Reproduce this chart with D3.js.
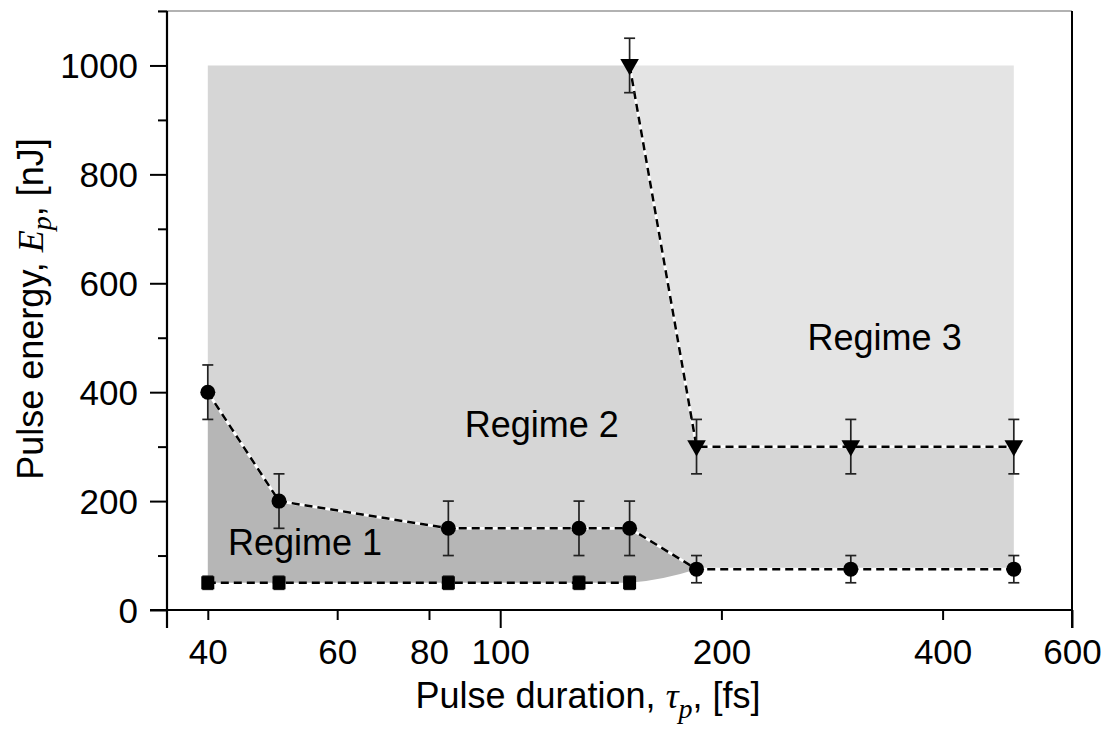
<!DOCTYPE html>
<html><head><meta charset="utf-8">
<script src="https://cdn.jsdelivr.net/npm/d3@7"></script>
<style>body{margin:0;background:#fff}svg{display:block}</style>
</head><body>
<svg id="c" width="1114" height="735"></svg>
<script>
// ---- data ----
const triX = [150, 185, 300, 500];
const triY = [1000, 300, 300, 300];
const triErr = [50, 50, 50, 50];
const circX = [40, 50, 85, 128, 150, 185, 300, 500];
const circY = [400, 200, 150, 150, 150, 75, 75, 75];
const circErr = [50, 50, 50, 50, 50, 25, 25, 25];
const sqX = [40, 50, 85, 128, 150];
const sqY = [50, 50, 50, 50, 50];
const sqErr = [12, 12, 12, 12, 12];
const regionTop = 1000, regionLeft = 40, regionRight = 500;
const xTickLabels = [40, 60, 80, 100, 200, 400, 600];
const xMajorTicks = [100, 600];
const xMinorTicks = [40, 60, 80, 200, 400];
const yMajorTicks = [0, 200, 400, 600, 800, 1000];
const yMinorTicks = [100, 300, 500, 700, 900, 1100];
const regimeLabels = [
  {text: "Regime 1", x: 42.6, y: 101},
  {text: "Regime 2", x: 89.5, y: 318},
  {text: "Regime 3", x: 262, y: 477}
];

const svg = d3.select("#c");
const x = d3.scaleLog().domain([35.2, 600]).range([167, 1072]);
const y = d3.scaleLinear().domain([0, 1100]).range([610, 11]);
const FONT = "'Liberation Sans', Arial, sans-serif";
const SERIF = "'Liberation Serif', 'Times New Roman', serif";

const line = d3.line().x(d => x(d[0])).y(d => y(d[1]));
const zip = (a, b) => a.map((v, i) => [v, b[i]]);
const tri = zip(triX, triY), circ = zip(circX, circY), sq = zip(sqX, sqY);

// ---- regions ----
const r3 = [[triX[0], regionTop], [regionRight, regionTop], [regionRight, triY[triY.length-1]], ...tri.slice().reverse()];
const r2 = [[regionLeft, regionTop], ...tri, [regionRight, circY[circY.length-1]], ...circ.slice().reverse()];
svg.append("path").attr("d", line(r3) + "Z").attr("fill", "#e4e4e4");
svg.append("path").attr("d", line(r2) + "Z").attr("fill", "#d6d6d6");
const lastSq = sq[sq.length-1], join = circ[5];
const p1 = line(circ.slice(0, 6));
const sx = x(lastSq[0]), sy = y(lastSq[1]), jx = x(join[0]), jy = y(join[1]);
const lower = line(sq.slice().reverse()).slice(1);
const r1d = p1 + `Q${(sx + jx) / 2},${(sy + jy) / 2 + 4} ${sx},${sy}` + "L" + lower + "Z";
svg.append("path").attr("d", r1d).attr("fill", "#b6b6b6");

// ---- frame & axes ----
const g = svg.append("g");
g.append("line").attr("x1", 158).attr("x2", 1072).attr("y1", y(1100)).attr("y2", y(1100)).attr("stroke", "#666").attr("stroke-width", 1.2);
g.append("line").attr("x1", x(600)).attr("x2", x(600)).attr("y1", y(1100)).attr("y2", 628).attr("stroke", "#000").attr("stroke-width", 2);

const yAxisMajor = d3.axisLeft(y).tickValues(yMajorTicks).tickSize(17).tickPadding(12).tickFormat(d3.format("d"));
const yAxisMinor = d3.axisLeft(y).tickValues(yMinorTicks).tickSize(9).tickFormat("");
const ya = g.append("g").attr("transform", "translate(167,0)").call(yAxisMajor);
const yb = g.append("g").attr("transform", "translate(167,0)").call(yAxisMinor);
[ya, yb].forEach(s => { s.select(".domain").remove(); s.selectAll("line").attr("stroke", "#000").attr("stroke-width", 2); });
ya.selectAll("text").attr("font-family", FONT).attr("font-size", 35).attr("fill", "#000").attr("dy", "0.35em");
g.append("line").attr("x1", 167).attr("x2", 167).attr("y1", y(1100)).attr("y2", 628).attr("stroke", "#000").attr("stroke-width", 2.2);

const xAxisMinor = d3.axisBottom(x).tickValues(xMinorTicks).tickSize(10).tickFormat("");
const xAxisMajor = d3.axisBottom(x).tickValues(xMajorTicks).tickSize(18).tickFormat("");
const xAxisLab = d3.axisBottom(x).tickValues(xTickLabels).tickSize(0).tickPadding(29).tickFormat(d3.format("d"));
const xa = g.append("g").attr("transform", "translate(0,610)").call(xAxisMinor);
const xb = g.append("g").attr("transform", "translate(0,610)").call(xAxisMajor);
const xc = g.append("g").attr("transform", "translate(0,610)").call(xAxisLab);
[xa, xb, xc].forEach(s => { s.select(".domain").remove(); s.selectAll("line").attr("stroke", "#000").attr("stroke-width", 2); });
xc.selectAll("text").attr("font-family", FONT).attr("font-size", 35).attr("fill", "#000");
g.append("line").attr("x1", 150).attr("x2", 1073).attr("y1", 610).attr("y2", 610).attr("stroke", "#000").attr("stroke-width", 2.2);

// ---- axis titles ----
const xt = svg.append("text").attr("x", 588).attr("y", 708).attr("text-anchor", "middle")
  .attr("font-family", FONT).attr("font-size", 36).attr("fill", "#000");
xt.append("tspan").text("Pulse duration, ");
xt.append("tspan").text("τ").attr("font-family", SERIF).attr("font-style", "italic");
xt.append("tspan").text("p").attr("font-family", SERIF).attr("font-style", "italic").attr("font-size", 28).attr("dy", 10);
xt.append("tspan").text(", [fs]").attr("dy", -10);

const yt = svg.append("text").attr("transform", "translate(43,309) rotate(-90)").attr("text-anchor", "middle")
  .attr("font-family", FONT).attr("font-size", 36).attr("fill", "#000");
yt.append("tspan").text("Pulse energy, ");
yt.append("tspan").text("E").attr("font-family", SERIF).attr("font-style", "italic");
yt.append("tspan").text("p").attr("font-family", SERIF).attr("font-style", "italic").attr("font-size", 28).attr("dy", 8);
yt.append("tspan").text(", [nJ]").attr("dy", -8);

// ---- regime labels ----
svg.selectAll("text.reg").data(regimeLabels).join("text").attr("class", "reg")
  .attr("x", d => x(d.x)).attr("y", d => y(d.y))
  .attr("font-family", FONT).attr("font-size", 36).attr("fill", "#000").text(d => d.text);

// ---- lines ----
[circ, tri].forEach(s => svg.append("path").attr("d", line(s)).attr("fill", "none").attr("stroke", "#fff").attr("stroke-width", 2.8));
[circ, tri, sq].forEach(s => svg.append("path").attr("d", line(s)).attr("fill", "none").attr("stroke", "#000").attr("stroke-width", 2.5).attr("stroke-dasharray", "8,5"));

// ---- error bars ----
function errBars(xs, ys, es) {
  const eg = svg.append("g").attr("stroke", "#222").attr("stroke-width", 1.7);
  xs.forEach((xv, i) => {
    const cx = x(xv), t = y(ys[i] + es[i]), b = y(ys[i] - es[i]);
    eg.append("line").attr("x1", cx).attr("x2", cx).attr("y1", t).attr("y2", b);
    eg.append("line").attr("x1", cx - 5.5).attr("x2", cx + 5.5).attr("y1", t).attr("y2", t);
    eg.append("line").attr("x1", cx - 5.5).attr("x2", cx + 5.5).attr("y1", b).attr("y2", b);
  });
}
errBars(circX, circY, circErr);
errBars(triX, triY, triErr);
errBars(sqX, sqY, sqErr);

// ---- markers ----
svg.append("g").selectAll("circle").data(circ).join("circle")
  .attr("cx", d => x(d[0])).attr("cy", d => y(d[1])).attr("r", 7.5).attr("fill", "#000");
svg.append("g").selectAll("rect").data(sq).join("rect")
  .attr("x", d => x(d[0]) - 6.5).attr("y", d => y(d[1]) - 6.5).attr("width", 13).attr("height", 13).attr("fill", "#000");
svg.append("g").selectAll("path").data(tri).join("path")
  .attr("d", d3.symbol().type(d3.symbolTriangle).size(150))
  .attr("transform", d => `translate(${x(d[0])},${y(d[1]) - 1}) rotate(180)`).attr("fill", "#000");
</script>
</body></html>
